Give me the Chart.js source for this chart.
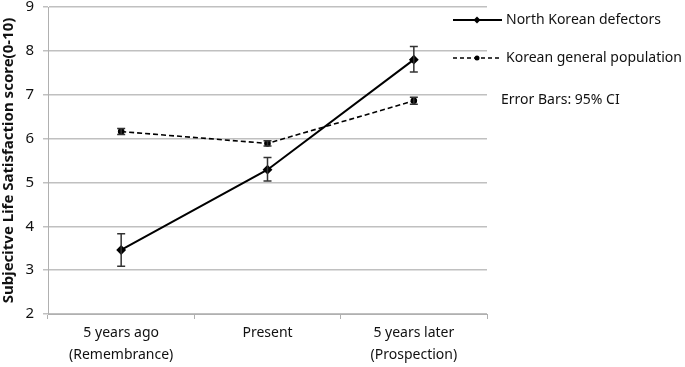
<!DOCTYPE html>
<html>
<head>
<meta charset="utf-8">
<script src="https://cdn.jsdelivr.net/npm/chart.js@4"></script>
<style>
  html, body { margin: 0; padding: 0; background: #fff; }
  #wrap { width: 685px; height: 367px; position: relative; }
</style>
</head>
<body>
<div id="wrap"><canvas id="mycanvas"></canvas></div>
<script>
// data
var categories = [['5 years ago', '(Remembrance)'], 'Present', ['5 years later', '(Prospection)']];
var defectors = [3.46, 5.29, 7.80];
var defectorsLow = [3.09, 5.03, 7.52];
var defectorsHigh = [3.83, 5.57, 8.10];
var general = [6.16, 5.89, 6.86];
var generalLow = [6.09, 5.83, 6.78];
var generalHigh = [6.23, 5.95, 6.94];
var seriesNames = ['North Korean defectors', 'Korean general population'];
var noteText = 'Error Bars: 95% CI';

var FONT = '"Noto Sans", "Open Sans", sans-serif';

// error bars drawn through the scales
var errorBars = {
  id: 'errorBars',
  afterDatasetsDraw: function(chart) {
    var ctx = chart.ctx;
    var y = chart.scales.y;
    var bounds = [[defectorsLow, defectorsHigh], [generalLow, generalHigh]];
    ctx.save();
    ctx.strokeStyle = '#333';
    ctx.lineWidth = 1.5;
    for (var d = 0; d < 2; d++) {
      var meta = chart.getDatasetMeta(d);
      for (var i = 0; i < meta.data.length; i++) {
        var px = meta.data[i].x;
        var lo = y.getPixelForValue(bounds[d][0][i]);
        var hi = y.getPixelForValue(bounds[d][1][i]);
        ctx.beginPath();
        ctx.moveTo(px, lo); ctx.lineTo(px, hi);
        ctx.moveTo(px - 4, lo); ctx.lineTo(px + 4, lo);
        ctx.moveTo(px - 4, hi); ctx.lineTo(px + 4, hi);
        ctx.stroke();
      }
    }
    ctx.restore();
  }
};

// legend on the right, like the original figure
var sideLegend = {
  id: 'sideLegend',
  afterDraw: function(chart) {
    var ctx = chart.ctx;
    ctx.save();
    ctx.font = '14px ' + FONT;
    ctx.fillStyle = '#111';
    ctx.textBaseline = 'middle';
    var rows = [{y: 20, dash: [], w: 2, shape: 'rectRot'}, {y: 58, dash: [4, 3], w: 1.5, shape: 'circle'}];
    for (var i = 0; i < rows.length; i++) {
      ctx.strokeStyle = '#000';
      ctx.lineWidth = rows[i].w;
      ctx.setLineDash(rows[i].dash);
      ctx.beginPath();
      ctx.moveTo(453, rows[i].y); ctx.lineTo(502, rows[i].y);
      ctx.stroke();
      ctx.setLineDash([]);
      ctx.fillStyle = '#000';
      ctx.beginPath();
      if (rows[i].shape === 'rectRot') {
        ctx.moveTo(477, rows[i].y - 3.5); ctx.lineTo(480.5, rows[i].y);
        ctx.lineTo(477, rows[i].y + 3.5); ctx.lineTo(473.5, rows[i].y);
      } else {
        ctx.arc(477, rows[i].y, 2.5, 0, Math.PI * 2);
      }
      ctx.fill();
      ctx.fillStyle = '#111';
      ctx.fillText(seriesNames[i], 506, rows[i].y);
    }
    ctx.fillText(noteText, 501, 100);
    ctx.restore();
  }
};

var ctx = document.getElementById('mycanvas');
var chart = new Chart(ctx, {
  type: 'line',
  data: {
    labels: categories,
    datasets: [
      {
        label: seriesNames[0],
        data: defectors,
        borderColor: '#000',
        backgroundColor: '#000',
        borderWidth: 2,
        pointStyle: 'rectRot',
        pointRadius: 3.5,
        tension: 0
      },
      {
        label: seriesNames[1],
        data: general,
        borderColor: '#000',
        backgroundColor: '#000',
        borderWidth: 1.6,
        borderDash: [5, 3],
        pointStyle: 'circle',
        pointRadius: 2.5,
        tension: 0
      }
    ]
  },
  options: {
    responsive: true,
    maintainAspectRatio: false,
    animation: false,
    layout: { padding: { top: 7, right: 198, left: 0, bottom: 0 } },
    plugins: { legend: { display: false }, tooltip: { enabled: false } },
    scales: {
      x: {
        offset: true,
        grid: { offset: true, drawOnChartArea: false, drawTicks: true, tickLength: 5, color: '#b0b0b0' },
        border: { color: '#b0b0b0' },
        ticks: { color: '#111', font: { family: FONT, size: 14, lineHeight: 1.55 }, padding: 3, maxRotation: 0 },
        afterFit: function(s) { s.height = 53; s.paddingLeft = 0; s.paddingRight = 0; }
      },
      y: {
        min: 2, max: 9,
        ticks: { stepSize: 1, color: '#111', font: { family: FONT, size: 15 }, padding: 9 },
        grid: { color: '#c0c0c0', tickLength: 5, lineWidth: 1.5 },
        border: { color: '#b0b0b0' },
        title: {
          display: true,
          text: 'Subjecitve Life Satisfaction score(0-10)',
          color: '#111',
          font: { family: FONT, size: 15, weight: 'bold' },
          padding: 0
        },
        afterFit: function(s) { s.width = 48; s.paddingTop = 0; s.paddingBottom = 0; }
      }
    }
  },
  plugins: [errorBars, sideLegend]
});
</script>
</body>
</html>
